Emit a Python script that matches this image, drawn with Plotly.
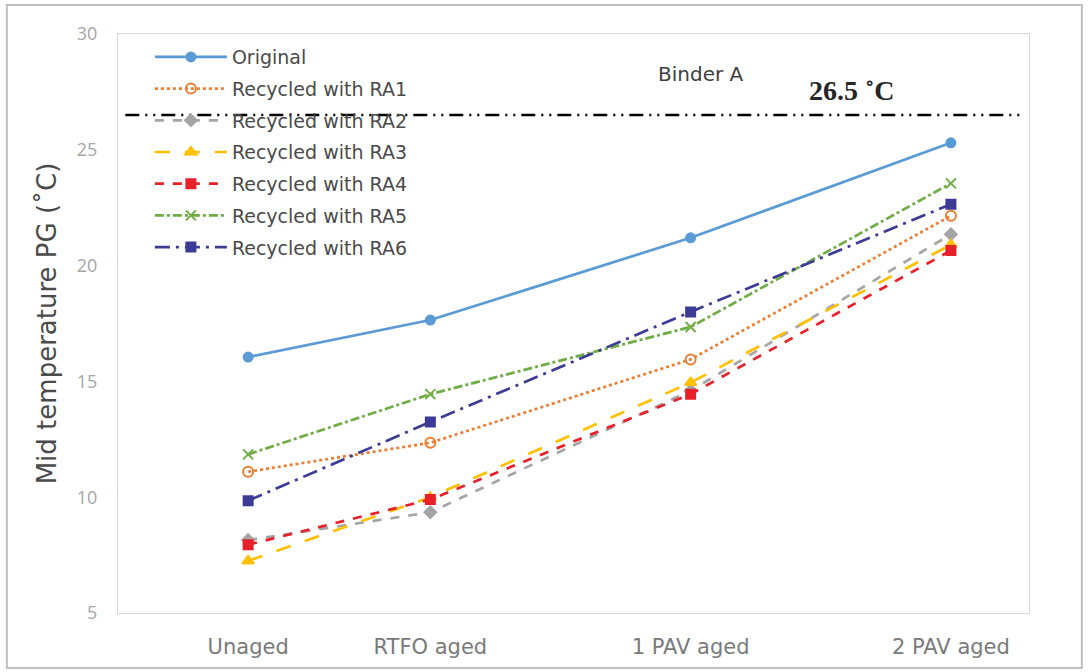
import plotly.graph_objects as go

# Aging stages and their positions on the horizontal axis
stages = ["Unaged", "RTFO aged", "1 PAV aged", "2 PAV aged"]
stage_pos = [0.0, 0.7, 1.7, 2.7]

# Mid temperature PG (°C) for each binder
original = [16.05, 17.65, 21.2, 25.3]
ra1 = [11.1, 12.35, 15.95, 22.15]
ra2 = [8.15, 9.35, 14.6, 21.35]
ra3 = [7.25, 10.0, 14.95, 20.9]
ra4 = [7.95, 9.9, 14.45, 20.65]
ra5 = [11.85, 14.45, 17.35, 23.55]
ra6 = [9.85, 13.25, 18.0, 22.65]

y_ticks = [5, 10, 15, 20, 25, 30]
limit_value = 26.5

series = [
    ("Original", original, "#5b9bd5", "solid", "circle", 9),
    ("Recycled with RA1", ra1, "#ed7d31", "dot", "circle-open", 10),
    ("Recycled with RA2", ra2, "#a5a5a5", "dash", "diamond", 9),
    ("Recycled with RA3", ra3, "#ffc000", "longdash", "triangle-up", 10),
    ("Recycled with RA4", ra4, "#e8202a", "dash", "square", 9),
    ("Recycled with RA5", ra5, "#70ad47", "dashdot", "x-thin-open", 10),
    ("Recycled with RA6", ra6, "#3c3c96", "longdashdot", "square", 9),
]

SANS = "DejaVu Sans"

fig = go.Figure()
for i, (name, vals, color, dash, symbol, msize) in enumerate(series):
    fig.add_trace(go.Scatter(
        x=stage_pos, y=vals, name=name, mode="lines+markers",
        legendgroup=f"g{i}",
        line=dict(color=color, width=2.7, dash=dash),
        marker=dict(symbol=symbol, size=msize, color=color,
                    line=dict(color=color, width=2)),
    ))

# Temperature limit line
fig.add_shape(type="line", xref="paper", yref="y", x0=0.008, x1=0.99,
              y0=limit_value, y1=limit_value,
              line=dict(color="black", width=2.5,
                        dash="14px,6px,2px,6px,2px,6px"))
fig.add_annotation(x=0.855, xref="paper", y=limit_value, yref="y",
                   text=f"<b>{limit_value} ˚C</b>", showarrow=False,
                   xanchor="right", yanchor="bottom", yshift=7,
                   font=dict(family="Liberation Serif", size=28, color="#262626"))
fig.add_annotation(x=0.64, xref="paper", y=0.955, yref="paper",
                   text="Binder A", showarrow=False,
                   font=dict(family=SANS, size=20, color="#404040"))

# Outer frame
fig.add_shape(type="rect", xref="paper", yref="paper",
              x0=-0.122, x1=1.058, y0=-0.095, y1=1.05,
              line=dict(color="#bfbfbf", width=2))

fig.update_layout(
    width=1088, height=672,
    margin=dict(l=118, r=59, t=34, b=59),
    paper_bgcolor="white", plot_bgcolor="white",
    font=dict(family=SANS, color="#595959"),
    showlegend=True,
    legend=dict(x=0.035, y=0.993, xanchor="left", yanchor="top",
                bgcolor="rgba(0,0,0,0)", traceorder="grouped",
                tracegroupgap=4, itemwidth=72,
                font=dict(family=SANS, size=19, color="#4a4a4a")),
    xaxis=dict(range=[-0.5, 3.0], tickvals=stage_pos, ticktext=stages,
               showgrid=False, zeroline=False, showline=True, mirror=True,
               linecolor="#d9d9d9", linewidth=1, ticks="",
               ticklabelstandoff=15,
               tickfont=dict(family=SANS, size=21, color="#7a7a7a")),
    yaxis=dict(range=[5, 30], tickvals=y_ticks, showgrid=False,
               zeroline=False, showline=True, mirror=True,
               linecolor="#d9d9d9", linewidth=1, ticks="",
               ticklabelstandoff=16,
               tickfont=dict(family="Open Sans", size=18, color="#a6a6a6")),
)
fig.update_yaxes(title=dict(text="Mid temperature PG (˚C)", standoff=12,
                            font=dict(family=SANS, size=26, color="#4a4a4a")))

fig.write_html("out.html")
